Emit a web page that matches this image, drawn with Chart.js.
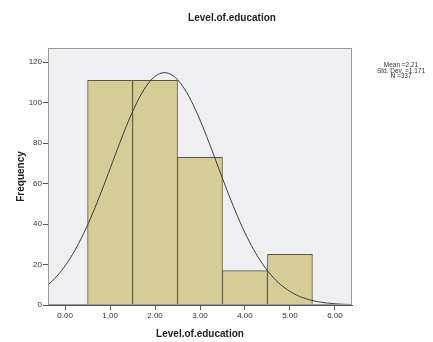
<!DOCTYPE html>
<html>
<head>
<meta charset="utf-8">
<script src="https://cdn.jsdelivr.net/npm/chart.js@4.4.1/dist/chart.umd.min.js"></script>
<style>
  html, body { margin: 0; padding: 0; background: #ffffff; }
  #wrap { position: relative; width: 433px; height: 342px; overflow: hidden; }
  #chart { position: absolute; left: 0; top: 0; }
  #title {
    position: absolute; left: 132px; width: 200px; top: 12px;
    text-align: center; font: bold 10px "Liberation Sans", Arial, sans-serif; color: #222;
  }
  #stats {
    position: absolute; left: 361px; width: 80px; top: 62px;
    text-align: center; font: 6.5px/5.6px "Liberation Sans", Arial, sans-serif; color: #333;
  }
</style>
</head>
<body>
<div id="wrap">
  <canvas id="chart" width="433" height="342"></canvas>
  <div id="title">Level.of.education</div>
  <div id="stats"></div>
</div>
<script>
// Histogram of Level.of.education with a fitted normal curve
const binCenters = [1, 2, 3, 4, 5];
const frequencies = [111, 111, 73, 17, 25];
const xTickValues = [0, 1, 2, 3, 4, 5, 6];
const yTickValues = [0, 20, 40, 60, 80, 100, 120];
const statMean = 2.21;
const statStdDev = 1.171;
const statN = 337;
const binWidth = 1;
const xRange = [-0.38, 6.38];
const yRange = [0, 127];

document.getElementById('stats').innerHTML =
  'Mean =' + statMean.toFixed(2) + '<br>Std. Dev. =' + statStdDev.toFixed(3) + '<br>N =' + statN;

// Normal density scaled to counts, sampled across the x axis
const curvePoints = [];
for (let i = 0; i <= 136; i++) {
  const x = xRange[0] + (xRange[1] - xRange[0]) * i / 136;
  const z = (x - statMean) / statStdDev;
  const y = statN * binWidth / (statStdDev * Math.sqrt(2 * Math.PI)) * Math.exp(-0.5 * z * z);
  curvePoints.push({ x: x, y: y });
}

const barPoints = binCenters.map((c, i) => ({ x: c, y: frequencies[i] }));

// Plot frame: light grey fill behind, grey outline on top
const framePlugin = {
  id: 'frame',
  beforeDatasetsDraw(chart) {
    const a = chart.chartArea, ctx = chart.ctx;
    ctx.save();
    ctx.fillStyle = '#efeff1';
    ctx.fillRect(a.left, a.top, a.right - a.left, a.bottom - a.top);
    ctx.restore();
  },
  afterDatasetsDraw(chart) {
    const a = chart.chartArea, ctx = chart.ctx;
    ctx.save();
    ctx.strokeStyle = '#9a9a9a';
    ctx.lineWidth = 1;
    ctx.strokeRect(a.left + 0.5, a.top + 0.5, a.right - a.left - 1, a.bottom - a.top - 1);
    ctx.restore();
  }
};

const tickFont = { family: '"Liberation Sans", Arial, sans-serif', size: 8 };
const titleFont = { family: '"Liberation Sans", Arial, sans-serif', size: 10, weight: 'bold' };

new Chart(document.getElementById('chart'), {
  type: 'bar',
  data: {
    datasets: [
      {
        type: 'line',
        data: curvePoints,
        borderColor: '#3c3c3c',
        borderWidth: 1,
        pointRadius: 0,
        tension: 0,
        fill: false,
        order: 0
      },
      {
        type: 'bar',
        data: barPoints,
        backgroundColor: '#d4cd98',
        borderColor: '#5f5a30',
        borderWidth: 1,
        barPercentage: 1,
        categoryPercentage: 1,
        order: 1
      }
    ]
  },
  options: {
    responsive: false,
    animation: false,
    events: [],
    layout: { padding: { left: 0, top: 48, right: 81, bottom: 0 } },
    plugins: { legend: { display: false }, tooltip: { enabled: false }, title: { display: false } },
    scales: {
      x: {
        type: 'linear',
        offset: false,
        min: xRange[0],
        max: xRange[1],
        afterBuildTicks(scale) { scale.ticks = xTickValues.map(v => ({ value: v })); },
        afterFit(scale) { scale.height = 37; },
        ticks: { font: tickFont, color: '#333', padding: 1, maxRotation: 0, callback: v => Number(v).toFixed(2) },
        grid: { offset: false, drawOnChartArea: false, drawTicks: true, tickLength: 5, color: '#555' },
        border: { display: true, color: '#555' },
        title: { display: true, text: 'Level.of.education', font: titleFont, color: '#222', padding: { top: 0, bottom: 2 } }
      },
      y: {
        type: 'linear',
        min: yRange[0],
        max: yRange[1],
        afterBuildTicks(scale) { scale.ticks = yTickValues.map(v => ({ value: v })); },
        afterFit(scale) { scale.width = 48; },
        ticks: { font: tickFont, color: '#333', padding: 1 },
        grid: { drawOnChartArea: false, drawTicks: true, tickLength: 5, color: '#555' },
        border: { display: true, color: '#555' },
        title: { display: true, text: 'Frequency', font: titleFont, color: '#222', padding: { top: 15, bottom: 0 } }
      }
    }
  },
  plugins: [framePlugin]
});
</script>
</body>
</html>
